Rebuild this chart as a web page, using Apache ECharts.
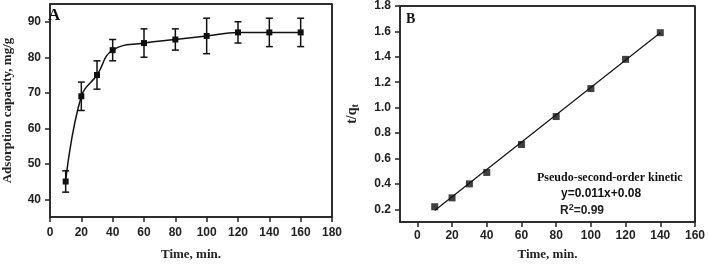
<!DOCTYPE html>
<html><head><meta charset="utf-8">
<script src="https://cdn.jsdelivr.net/npm/echarts@6/dist/echarts.min.js"></script>
<style>html,body{margin:0;padding:0;background:#fff}#c{width:708px;height:266px}</style>
</head><body><div id="c"></div>
<script>
// Panel A: adsorption capacity vs time
const timeA = [10, 20, 30, 40, 60, 80, 100, 120, 140, 160];
const capA = [45, 69, 75, 82, 84, 85, 86, 87, 87, 87];
const errLowA = [42, 65, 71, 79, 80, 82, 81, 84, 83, 83];
const errHighA = [48, 73, 79, 85, 88, 88, 91, 90, 91, 91];
const xTicksA = [0, 20, 40, 60, 80, 100, 120, 140, 160, 180];
const yTicksA = [40, 50, 60, 70, 80, 90];
const xRangeA = [0, 180];
const yRangeA = [35, 95];
// Panel B: pseudo-second-order t/qt vs time
const timeB = [10, 20, 30, 40, 60, 80, 100, 120, 140];
const tqB = [0.22, 0.29, 0.40, 0.49, 0.71, 0.93, 1.15, 1.38, 1.59];
const fitB = [[10, 0.19], [140, 1.59]];
const xTicksB = [0, 20, 40, 60, 80, 100, 120, 140, 160];
const yTicksB = [0.2, 0.4, 0.6, 0.8, 1.0, 1.2, 1.4, 1.6, 1.8];
const xRangeB = [-10, 160];
const yRangeB = [0.1, 1.8];

const SANS = 'Liberation Sans, Arial, sans-serif';
const SERIF = 'Liberation Serif, Times New Roman, serif';
const axisCol = '#222';
const labelStyle = {fontFamily: SANS, fontWeight: 'bold', fontSize: 12, color: '#222'};

function xAxis(gridIndex, range, ticks, gap, margin) {
  return {
    type: 'value', gridIndex, min: range[0], max: range[1],
    axisLine: {show: true, onZero: false, lineStyle: {color: axisCol, width: 1.5}},
    axisTick: {show: true, length: 5, customValues: ticks, lineStyle: {color: axisCol, width: 1.5}},
    axisLabel: Object.assign({customValues: ticks, margin}, labelStyle),
    splitLine: {show: false},
    name: 'Time, min.', nameLocation: 'middle', nameGap: gap,
    nameTextStyle: {fontFamily: SERIF, fontWeight: 'bold', fontSize: 13, color: '#222'}
  };
}
function yAxis(gridIndex, range, ticks, name, gap, fmt, nameRich) {
  return {
    type: 'value', gridIndex, min: range[0], max: range[1],
    axisLine: {show: true, onZero: false, lineStyle: {color: axisCol, width: 1.5}},
    axisTick: {show: true, length: 5, customValues: ticks, lineStyle: {color: axisCol, width: 1.5}},
    axisLabel: Object.assign({customValues: ticks, margin: 9, formatter: fmt}, labelStyle),
    splitLine: {show: false},
    name, nameLocation: 'middle', nameGap: gap, nameRotate: 90,
    nameTextStyle: {fontFamily: SERIF, fontWeight: 'bold', fontSize: 13, color: '#222', rich: nameRich}
  };
}
// frame around a panel, drawn through the panel's own axes
function frameSeries(idx, xr, yr) {
  return {
    type: 'custom', xAxisIndex: idx, yAxisIndex: idx, silent: true, clip: false,
    data: [[xr[0], yr[0]]],
    renderItem: function (params, api) {
      const p1 = api.coord([xr[0], yr[1]]);
      const p2 = api.coord([xr[1], yr[0]]);
      const st = {stroke: axisCol, lineWidth: 1.5};
      return {type: 'group', children: [
        {type: 'line', shape: {x1: p1[0], y1: p1[1], x2: p2[0], y2: p1[1]}, style: st},
        {type: 'line', shape: {x1: p2[0], y1: p1[1], x2: p2[0], y2: p2[1]}, style: st}
      ]};
    },
    z: 1
  };
}
const titleText = (text, left, top, family, size) => ({
  text, left, top, padding: 0,
  textStyle: {fontFamily: family, fontWeight: 'bold', fontSize: size, color: '#111'}
});

const chart = echarts.init(document.getElementById('c'));
chart.setOption({
  animation: false,
  title: [
    titleText('A', 48, 7, SERIF, 17),
    titleText('B', 406, 12, SERIF, 14),
    titleText('Pseudo-second-order kinetic', 537, 172, SERIF, 12),
    titleText('y=0.011x+0.08', 561, 188, SANS, 12),
    {text: '{r|R}{s|2}{r|=0.99}', left: 560, top: 203, padding: 0,
     textStyle: {rich: {r: {fontFamily: SANS, fontWeight: 'bold', fontSize: 12, color: '#222'},
                        s: {fontFamily: SANS, fontWeight: 'bold', fontSize: 9, color: '#222', verticalAlign: 'top', padding: [0, 0, 6, 0]}}}}
  ],
  grid: [
    {left: 44, top: 4, width: 288, height: 214, show: true, borderColor: axisCol, borderWidth: 1.5},
    {left: 400, top: 6, width: 297, height: 220, show: true, borderColor: axisCol, borderWidth: 1.5}
  ],
  xAxis: [
    xAxis(0, xRangeA, xTicksA, 31, 10),
    xAxis(1, xRangeB, xTicksB, 26, 8)
  ],
  yAxis: [
    yAxis(0, yRangeA, yTicksA, 'Adsorption capacity, mg/g', 36, v => String(v)),
    yAxis(1, yRangeB, yTicksB, '{n|t/q}{s|t}', 40, v => v.toFixed(1),
      {n: {fontFamily: SERIF, fontWeight: 'bold', fontSize: 14, color: '#222'},
       s: {fontFamily: SERIF, fontWeight: 'bold', fontSize: 10, color: '#222', verticalAlign: 'bottom', padding: [6, 0, 0, 0]}})
  ],
  series: [
    frameSeries(0, xRangeA, yRangeA),
    frameSeries(1, xRangeB, yRangeB),
    {
      type: 'line', xAxisIndex: 0, yAxisIndex: 0,
      data: timeA.map((t, i) => [t, capA[i]]),
      smooth: 0.45, symbol: 'rect', symbolSize: 6,
      lineStyle: {color: '#111', width: 1.5}, itemStyle: {color: '#111'}, z: 3
    },
    {
      type: 'custom', xAxisIndex: 0, yAxisIndex: 0,
      data: timeA.map((t, i) => [t, errLowA[i], errHighA[i]]),
      renderItem: function (params, api) {
        const lo = api.coord([api.value(0), api.value(1)]);
        const hi = api.coord([api.value(0), api.value(2)]);
        const w = 3.5;
        const st = {stroke: '#111', lineWidth: 1.5};
        return {type: 'group', children: [
          {type: 'line', shape: {x1: lo[0], y1: lo[1], x2: hi[0], y2: hi[1]}, style: st},
          {type: 'line', shape: {x1: lo[0] - w, y1: lo[1], x2: lo[0] + w, y2: lo[1]}, style: st},
          {type: 'line', shape: {x1: hi[0] - w, y1: hi[1], x2: hi[0] + w, y2: hi[1]}, style: st}
        ]};
      },
      z: 4
    },
    {
      type: 'line', xAxisIndex: 1, yAxisIndex: 1,
      data: fitB, symbol: 'none',
      lineStyle: {color: '#111', width: 1.2}, z: 2
    },
    {
      type: 'scatter', xAxisIndex: 1, yAxisIndex: 1,
      data: timeB.map((t, i) => [t, tqB[i]]),
      symbol: 'rect', symbolSize: 7, itemStyle: {color: '#111'}, z: 3
    }
  ]
});
</script></body></html>
